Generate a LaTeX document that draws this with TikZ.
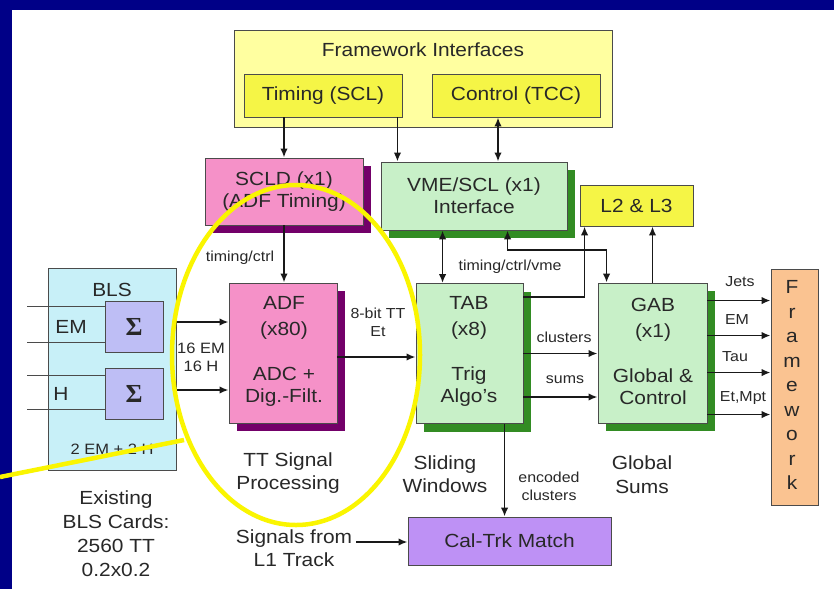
\documentclass[tikz,border=0pt]{standalone}
\usepackage{fontspec}
\setmainfont{Liberation Sans}[FakeStretch=1.1]
\newfontfamily\sigmafont{Liberation Serif}
\usetikzlibrary{arrows.meta,shadows}
\definecolor{navyc}{RGB}{0,0,135}
\definecolor{fwyel}{RGB}{255,255,160}
\definecolor{boxyel}{RGB}{245,245,70}
\definecolor{pinkc}{RGB}{245,145,200}
\definecolor{pinksh}{RGB}{115,0,105}
\definecolor{greenc}{RGB}{200,240,200}
\definecolor{greensh}{RGB}{50,140,35}
\definecolor{blsc}{RGB}{200,240,248}
\definecolor{sigc}{RGB}{190,190,245}
\definecolor{calc}{RGB}{190,145,245}
\definecolor{fworc}{RGB}{250,195,145}
\definecolor{edgec}{RGB}{75,75,75}
\definecolor{txtc}{RGB}{40,40,40}
\definecolor{arrc}{RGB}{25,25,25}
\definecolor{hiyel}{RGB}{250,245,0}
\newcommand\fbig{\fontsize{19}{22}\selectfont}
\newcommand\fsmall{\fontsize{14.5}{18}\selectfont}
\newcommand\fmid{\fontsize{15}{18}\selectfont}
\tikzset{
  bx/.style={draw=edgec, line width=0.9pt, inner sep=0pt, align=center, text=txtc, font=\fbig},
  pinkbox/.style={bx, fill=pinkc, general shadow={fill=pinksh, shadow xshift=8pt, shadow yshift=-8pt}},
  greenbox/.style={bx, fill=greenc, general shadow={fill=greensh, shadow xshift=8pt, shadow yshift=-8pt}},
  bigtxt/.style={inner sep=0pt, align=center, text=txtc, font=\fbig},
  smalltxt/.style={inner sep=0pt, align=center, text=txtc, font=\fsmall},
  arr/.style={draw=arrc, line width=1.8pt, -{Latex[length=9pt,width=7.5pt]}},
  darr/.style={draw=arrc, line width=1.8pt, {Latex[length=9pt,width=7.5pt]}-{Latex[length=9pt,width=7.5pt]}},
  thinline/.style={draw=edgec, line width=1.2pt},
  hilite/.style={draw=hiyel, line width=4.5pt}
}
\begin{document}
\begin{tikzpicture}[x=1pt,y=-1pt]
\useasboundingbox (0,0) rectangle (834,589);
\fill[navyc] (0,0) rectangle (834,589);
\fill[white] (12,10) rectangle (834,589);

% boxes
\node[bx, fill=fwyel, minimum width=378pt, minimum height=97pt] (fw) at (423,78.5) {};
\node[bigtxt] (fwtitle) at (423,50) {Framework Interfaces};
\node[bx, fill=boxyel, minimum width=158pt, minimum height=43pt] (timing) at (323,95.5) {Timing (SCL)};
\node[bx, fill=boxyel, minimum width=168pt, minimum height=43pt] (control) at (516,95.5) {Control (TCC)};
\node[pinkbox, minimum width=158pt, minimum height=67pt] (scld) at (284,191.5) {SCLD (x1)\\(ADF Timing)};
\node[greenbox, minimum width=186pt, minimum height=68pt] (vme) at (474,196) {VME/SCL (x1)\\Interface};
\node[bx, fill=boxyel, minimum width=113pt, minimum height=41pt] (l2) at (636.5,205.5) {L2 \& L3};
\node[bx, fill=blsc, minimum width=128pt, minimum height=202pt] (bls) at (112,369) {};
\node[bx, fill=sigc, minimum width=58pt, minimum height=51pt, font=\fontsize{26}{26}\selectfont\sigmafont\bfseries] (sig1) at (134,326.5) {Σ};
\node[bx, fill=sigc, minimum width=58pt, minimum height=51pt, font=\fontsize{26}{26}\selectfont\sigmafont\bfseries] (sig2) at (134,393.5) {Σ};
\node[pinkbox, minimum width=108pt, minimum height=140pt] (adf) at (283,353) {};
\node[greenbox, minimum width=107pt, minimum height=140pt] (tab) at (469.5,353.5) {};
\node[greenbox, minimum width=109pt, minimum height=140pt] (gab) at (652.5,353) {};
\node[bx, fill=fworc, minimum width=47pt, minimum height=236pt] (fwk) at (794.5,387) {};
\node[bx, fill=calc, minimum width=203pt, minimum height=48pt] (cal) at (509.5,541) {Cal-Trk Match};

% box texts
\node[bigtxt] (adft) at (284,351) {ADF\\[4pt](x80)\\[23pt]ADC +\\Dig.-Filt.};
\node[bigtxt] (tabt) at (469,351) {TAB\\[4pt](x8)\\[23pt]Trig\\Algo's};
\node[bigtxt] (gabt) at (653,351) {GAB\\[4pt](x1)\\[23pt]Global \&\\Control};
\node[bigtxt, font=\fontsize{19}{24.5}\selectfont] (fwkt) at (792,385) {F\\r\\a\\m\\e\\w\\o\\r\\k};
\node[bigtxt] (blst) at (112,290) {BLS};
\node[bigtxt] (emt) at (71,327) {EM};
\node[bigtxt] (ht) at (61,394) {H};
\node[inner sep=0pt, text=txtc, font=\fmid] (blsbot) at (112,449) {2 EM + 2 H};

% free labels
\node[bigtxt, font=\fontsize{19}{24}\selectfont] (exist) at (116,534) {Existing\\BLS Cards:\\2560 TT\\0.2x0.2};
\node[bigtxt, font=\fontsize{19}{23}\selectfont] (ttsp) at (288,473.5) {TT Signal\\Processing};
\node[bigtxt, font=\fontsize{19}{23}\selectfont] (slid) at (445,474) {Sliding\\Windows};
\node[bigtxt, font=\fontsize{19}{24}\selectfont] (glob) at (642,475) {Global\\Sums};
\node[bigtxt, font=\fontsize{19}{23}\selectfont] (sigl1) at (294,548) {Signals from\\L1 Track};

% small labels
\node[smalltxt] (ltc) at (240,258) {timing/ctrl};
\node[smalltxt] (l8bit) at (378,322) {8-bit TT\\Et};
\node[smalltxt] (ltcv) at (510,267) {timing/ctrl/vme};
\node[smalltxt] (lclu) at (564,337) {clusters};
\node[smalltxt] (lsums) at (565,380) {sums};
\node[smalltxt] (ljets) at (740,282) {Jets};
\node[smalltxt] (lem) at (737,320) {EM};
\node[smalltxt] (ltau) at (735,357) {Tau};
\node[smalltxt] (letm) at (743,398) {Et,Mpt};
\node[smalltxt] (lenc) at (549,486) {encoded\\clusters};
\node[inner sep=0pt, align=center, text=txtc, font=\fmid] (l16) at (201,357) {16 EM\\16 H};

% coordinates
\coordinate (inx) at (27,0);
\coordinate (s1a) at ([yshift=-6pt]sig1.north west);
\coordinate (s1b) at ([yshift=10pt]sig1.south west);
\coordinate (s2a) at ([yshift=-8pt]sig2.north west);
\coordinate (s2b) at ([yshift=10pt]sig2.south west);
\coordinate (b1) at ([yshift=4.5pt]sig1.east);
\coordinate (b2) at ([yshift=3.5pt]sig2.east);
\coordinate (tv) at ([xshift=-5pt]timing.south east);
\coordinate (cv) at ([xshift=-18pt]control.south);
\coordinate (vt) at ([xshift=62pt]vme.south west);
\coordinate (vg) at ([xshift=127pt]vme.south west);
\coordinate (gv) at ([xshift=9pt]gab.north west);
\coordinate (vgy) at (0,250);
\coordinate (tl) at ([yshift=-14pt]tab.north east);
\coordinate (l2x) at ([xshift=5pt]l2.south west);
\coordinate (at) at ([yshift=-4pt]adf.east);
\coordinate (ts) at ([yshift=-43.5pt]tab.east);
\coordinate (g1) at ([yshift=-18pt]gab.north east);
\coordinate (g2) at ([yshift=-53pt]gab.north east);
\coordinate (g3) at ([yshift=-90pt]gab.north east);
\coordinate (g4) at ([yshift=-132pt]gab.north east);
\coordinate (tc) at ([xshift=89pt]tab.south west);
\coordinate (sg) at (356,542);

% input lines
\draw[thinline] (inx |- s1a) -- (s1a);
\draw[thinline] (inx |- s1b) -- (s1b);
\draw[thinline] (inx |- s2a) -- (s2a);
\draw[thinline] (inx |- s2b) -- (s2b);

% connectors
\draw[arr] (timing.south -| scld.north) -- (scld.north);
\draw[arr] (tv) -- (tv |- vme.north);
\draw[darr] (cv) -- (cv |- vme.north);
\draw[arr] (scld.south) -- (scld.south |- adf.north);
\draw[darr] (vt) -- (vt |- tab.north);
\draw[darr] (vg) -- (vg |- vgy) -- (gv |- vgy) -- (gv);
\draw[arr] (tl) -- (tl -| l2x) -- (l2x |- l2.south);
\draw[arr] (gab.north) -- (gab.north |- l2.south);
\draw[arr] (b1 -| bls.east) -- (b1 -| adf.west);
\draw[arr] (b2 -| bls.east) -- (b2 -| adf.west);
\draw[arr] (at) -- (at -| tab.west);
\draw[arr] (tab.east) -- (tab.east -| gab.west);
\draw[arr] (ts) -- (ts -| gab.west);
\draw[arr] (g1) -- (g1 -| fwk.west);
\draw[arr] (g2) -- (g2 -| fwk.west);
\draw[arr] (g3) -- (g3 -| fwk.west);
\draw[arr] (g4) -- (g4 -| fwk.west);
\draw[arr] (tc) -- (tc |- cal.north);
\draw[arr] (sg) -- (sg -| cal.west);

% highlight
\draw[hilite] (296,355) ellipse [x radius=124, y radius=170];
\draw[hilite] (0,477) -- (184,440);
\end{tikzpicture}
\end{document}
